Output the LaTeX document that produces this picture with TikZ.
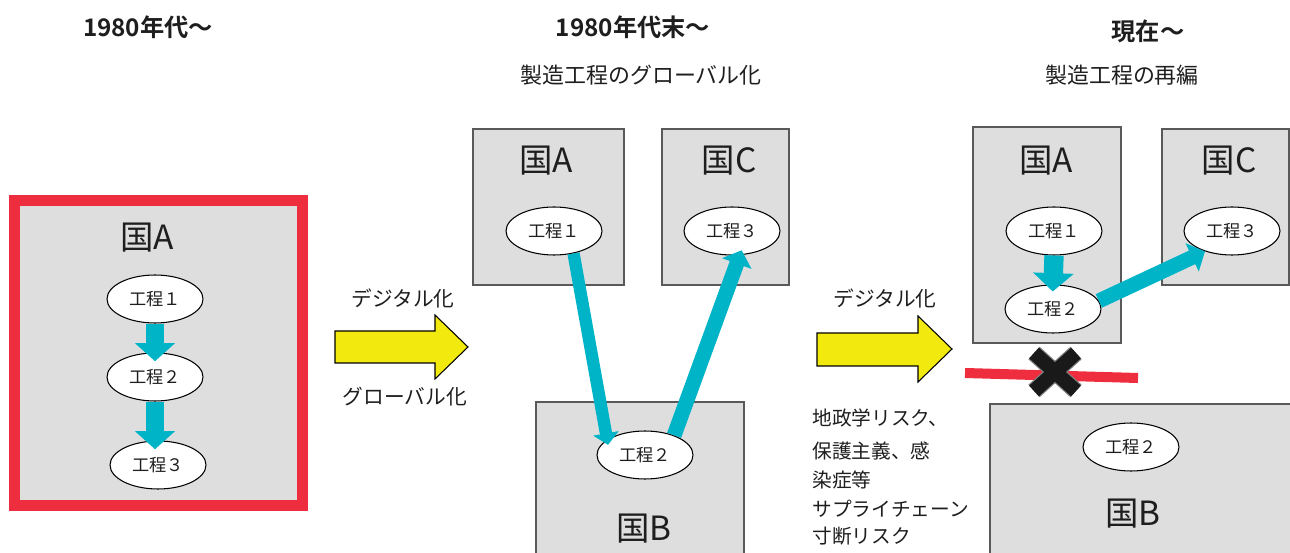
\documentclass[tikz,border=0pt]{standalone}
\usepackage{fontspec}
\setmainfont{Noto Sans CJK JP}[BoldFont={Noto Sans CJK JP Bold}]
\usetikzlibrary{arrows.meta,shapes.geometric}
\definecolor{boxgray}{HTML}{DEDEDE}
\definecolor{boxline}{HTML}{595959}
\definecolor{cyanA}{HTML}{00B4C8}
\definecolor{redA}{HTML}{EE2D3F}
\definecolor{yellowA}{HTML}{F2E90F}
\definecolor{txt}{HTML}{1E1E1E}
\begin{document}
\begin{tikzpicture}[x=0.02cm,y=-0.02cm,
 box/.style={draw=boxline,fill=boxgray,line width=0.8pt},
 country/.style={font=\fontsize{19}{22}\selectfont,text=txt,inner sep=0},
 proc/.style={ellipse,draw=black,fill=white,line width=0.6pt,minimum width=1.92cm,minimum height=0.96cm,inner sep=0,font=\fontsize{9.8}{11}\selectfont,text=txt},
 carrow/.style={draw=cyanA,line width=#1,-{Triangle[width=0pt 2.05,length=0pt 0.95]}},
 carrow/.default=10.5pt,
 yarrow/.style={draw=black,fill=yellowA,line width=0.6pt,line join=miter},
 head/.style={font=\bfseries\fontsize{13.8}{16}\selectfont,text=txt},
 sub/.style={font=\fontsize{12.5}{15}\selectfont,text=txt},
 lbl/.style={font=\fontsize{11.8}{14}\selectfont,text=txt},
 risk/.style={font=\fontsize{11.2}{14}\selectfont,text=txt,anchor=west,inner sep=0},
]
\useasboundingbox (0,0) rectangle (1290,553);
\clip (0,0) rectangle (1290,553);

% headers
\node[head] (h1) at (148,27) {1980年代～};
\node[head] (h2) at (633,27) {1980年代末～};
\node[head] (h3) at (1148,31) {現在～};
\node[sub] (s2) at (641,75) {製造工程のグローバル化};
\node[sub] (s3) at (1122,75) {製造工程の再編};

% left panel
\draw[draw=redA,fill=boxgray,line width=6.2pt] (14.5,200.5) rectangle (302.5,505.5);
\node[country] (la) at (147,238) {国A};
\node[proc] (a1) at (155,299) {工程１};
\node[proc] (a2) at (155,377) {工程２};
\node[proc] (a3) at (158,465) {工程３};
\draw[carrow=10.8pt,shorten >=-5pt] (a1.south) -- (a2.north);
\draw[carrow=10.8pt,shorten >=-5pt] (a2.south) -- (a2.south |- a3.north);

% yellow arrows and labels
\draw[yarrow] (335,331) -- (435,331) -- (435,315) -- (468,347) -- (435,379) -- (435,363) -- (335,363) -- cycle;
\node[lbl] (d1) at (403,298) {デジタル化};
\node[lbl] (g1) at (405,397) {グローバル化};
\draw[yarrow] (817,333) -- (918,333) -- (918,316) -- (952,349) -- (918,382) -- (918,366) -- (817,366) -- cycle;
\node[lbl] (d2) at (885,298) {デジタル化};

% middle panel
\draw[box] (473,129) rectangle (624,285);
\draw[box] (662,129) rectangle (789,285);
\draw[box] (536,402) rectangle (744,600);
\node[country] (ma) at (546,161) {国A};
\node[country] (mc) at (729,161) {国C};
\node[country] (mb) at (644,529) {国B};
\node[proc] (m1) at (554,231) {工程１};
\node[proc] (m3) at (732,231) {工程３};
\node[proc] (m2) at (645,455) {工程２};
\draw[carrow=7pt,shorten >=-3pt] (m1.-49) -- (m2.158);
\draw[carrow=8.5pt,shorten >=-3pt] (m2.34) -- (m3.-72);

% right panel
\draw[box] (973,127) rectangle (1121,343);
\draw[box] (1162,129) rectangle (1289,285);
\draw[box] (990,404) rectangle (1300,600);
\node[country] (ra) at (1046,161) {国A};
\node[country] (rc) at (1229,161) {国C};
\node[country] (rb) at (1133,514) {国B};
\node[proc] (r1) at (1054,231) {工程１};
\node[proc] (r2) at (1053,309) {工程２};
\node[proc] (r3) at (1232,231) {工程３};
\node[proc] (r4) at (1131,447) {工程２};
\draw[carrow=11pt,shorten >=-4pt] (r1.south) -- (r2.north);
\draw[carrow=8.5pt] (r2.10) -- (r3.217);

% cut line and cross
\draw[redA,line width=5.7pt] (965,373) -- (1138,378);
\draw[gray,line width=9.6pt] (1034,353) -- (1076,391) (1034,391) -- (1076,353);
\draw[black!90,line width=8.2pt] (1034,353) -- (1076,391) (1034,391) -- (1076,353);

% risk text
\node[risk] (t1) at (812,418) {地政学リスク、};
\node[risk] (t2) at (812,451) {保護主義、感};
\node[risk] (t3) at (812,480) {染症等};
\node[risk] (t4) at (812,509) {サプライチェーン};
\node[risk] (t5) at (812,536) {寸断リスク};
\end{tikzpicture}
\end{document}
